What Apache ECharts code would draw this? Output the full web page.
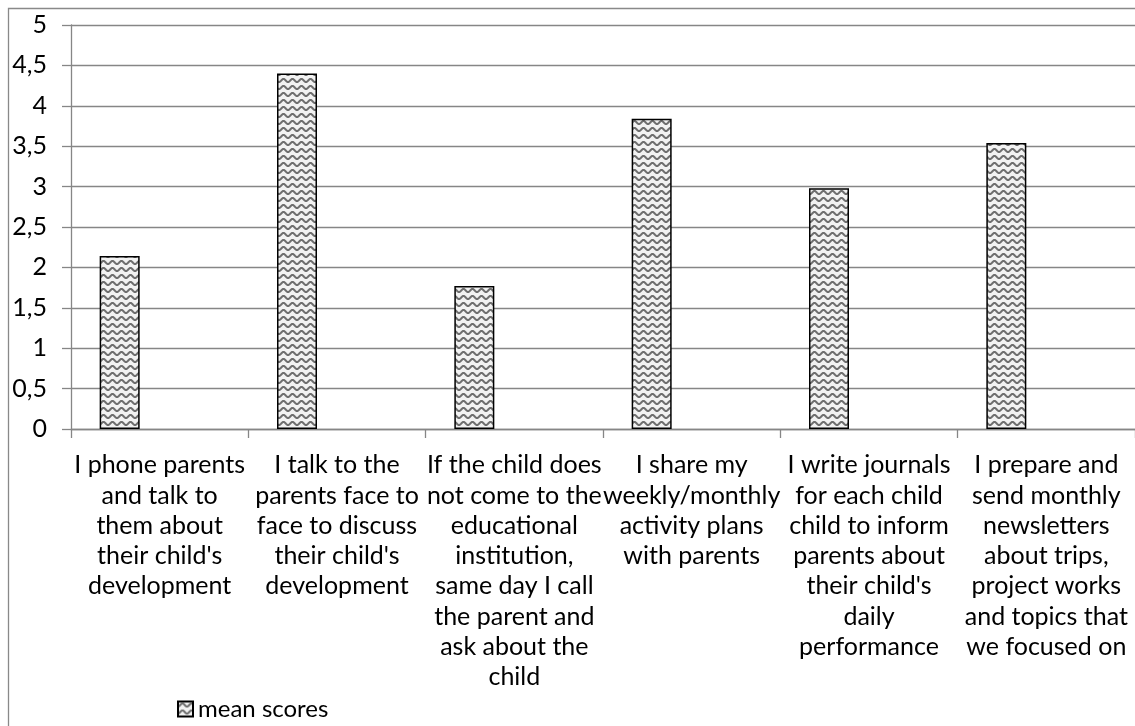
<!DOCTYPE html>
<html>
<head>
<meta charset="utf-8">
<script src="https://cdn.jsdelivr.net/npm/echarts@6/dist/echarts.min.js"></script>
<style>
html,body{margin:0;padding:0;background:#fff;}
#chart{width:1135px;height:726px;}
</style>
</head>
<body>
<div id="chart"></div>
<script>
const categories = [
  "I phone parents\nand talk to\nthem about\ntheir child's\ndevelopment",
  "I talk to the\nparents face to\nface to discuss\ntheir child's\ndevelopment",
  "If the child does\nnot come to the\neducational\ninstitution,\nsame day I call\nthe parent and\nask about the\nchild",
  "I share my\nweekly/monthly\nactivity plans\nwith parents",
  "I write journals\nfor each child\nchild to inform\nparents about\ntheir child's\ndaily\nperformance",
  "I prepare and\nsend monthly\nnewsletters\nabout trips,\nproject works\nand topics that\nwe focused on"
];
const meanScores = [2.14, 4.40, 1.77, 3.84, 2.98, 3.54];
const seriesName = "mean scores";
const yTicks = { min: 0, max: 5, interval: 0.5 };

function makePattern() {
  const c = document.createElement('canvas');
  c.width = 9; c.height = 7;
  const g = c.getContext('2d');
  g.fillStyle = '#f2f2f2';
  g.fillRect(0, 0, 9, 7);
  g.strokeStyle = '#6e6e6e';
  g.lineWidth = 2;
  for (let row = -1; row <= 1; row++) {
    g.beginPath();
    for (let x = -1; x <= 10; x += 0.5) {
      const y = 3.5 + row * 7 + 1.6 * Math.cos((x / 9) * Math.PI * 2);
      if (x === -1) g.moveTo(x, y); else g.lineTo(x, y);
    }
    g.stroke();
  }
  return c;
}

const chart = echarts.init(document.getElementById('chart'), null, { renderer: 'canvas' });
const font = "Lato";
const fs = 25;
const pattern = { image: makePattern(), repeat: 'repeat' };

chart.setOption({
  animation: false,
  backgroundColor: '#fff',
  textStyle: { fontFamily: font },
  graphic: [{
    type: 'rect',
    shape: { x: 8.5, y: 8.5, width: 2000, height: 2000 },
    style: { fill: 'none', stroke: '#898989', lineWidth: 1.3 },
    silent: true
  }],
  grid: { left: 71, top: 25, width: 1068, height: 404, containLabel: false },
  legend: {
    data: [seriesName],
    left: 172, top: 692,
    icon: 'rect', itemWidth: 15, itemHeight: 15,
    textStyle: { fontFamily: font, fontSize: 24, color: '#000' }
  },
  xAxis: {
    type: 'category',
    data: categories,
    boundaryGap: true,
    axisLine: { lineStyle: { color: '#868686', width: 1.3 } },
    axisTick: { show: true, length: 9, alignWithLabel: false, lineStyle: { color: '#868686', width: 1.3 } },
    axisLabel: { interval: 0, margin: 21, fontSize: fs, lineHeight: 30.3, color: '#000', fontFamily: font, align: 'center' },
    splitLine: { show: false }
  },
  yAxis: {
    type: 'value',
    min: yTicks.min, max: yTicks.max, interval: yTicks.interval,
    axisLine: { show: true, lineStyle: { color: '#868686', width: 1.3 } },
    axisTick: { show: true, length: 9, lineStyle: { color: '#868686', width: 1.3 } },
    axisLabel: {
      margin: 24, fontSize: fs, color: '#000', fontFamily: font,
      formatter: v => String(v).replace('.', ',')
    },
    splitLine: { show: true, lineStyle: { color: '#868686', width: 1.3 } }
  },
  series: [
    {
      name: seriesName, type: 'bar', data: meanScores,
      barWidth: 40, barGap: '0%',
      itemStyle: { color: pattern, borderColor: '#000', borderWidth: 1.5 }
    },
    { name: '_slot2', type: 'bar', data: [], barWidth: 40, barGap: '0%' },
    { name: '_slot3', type: 'bar', data: [], barWidth: 40, barGap: '0%' }
  ]
});
</script>
</body>
</html>
